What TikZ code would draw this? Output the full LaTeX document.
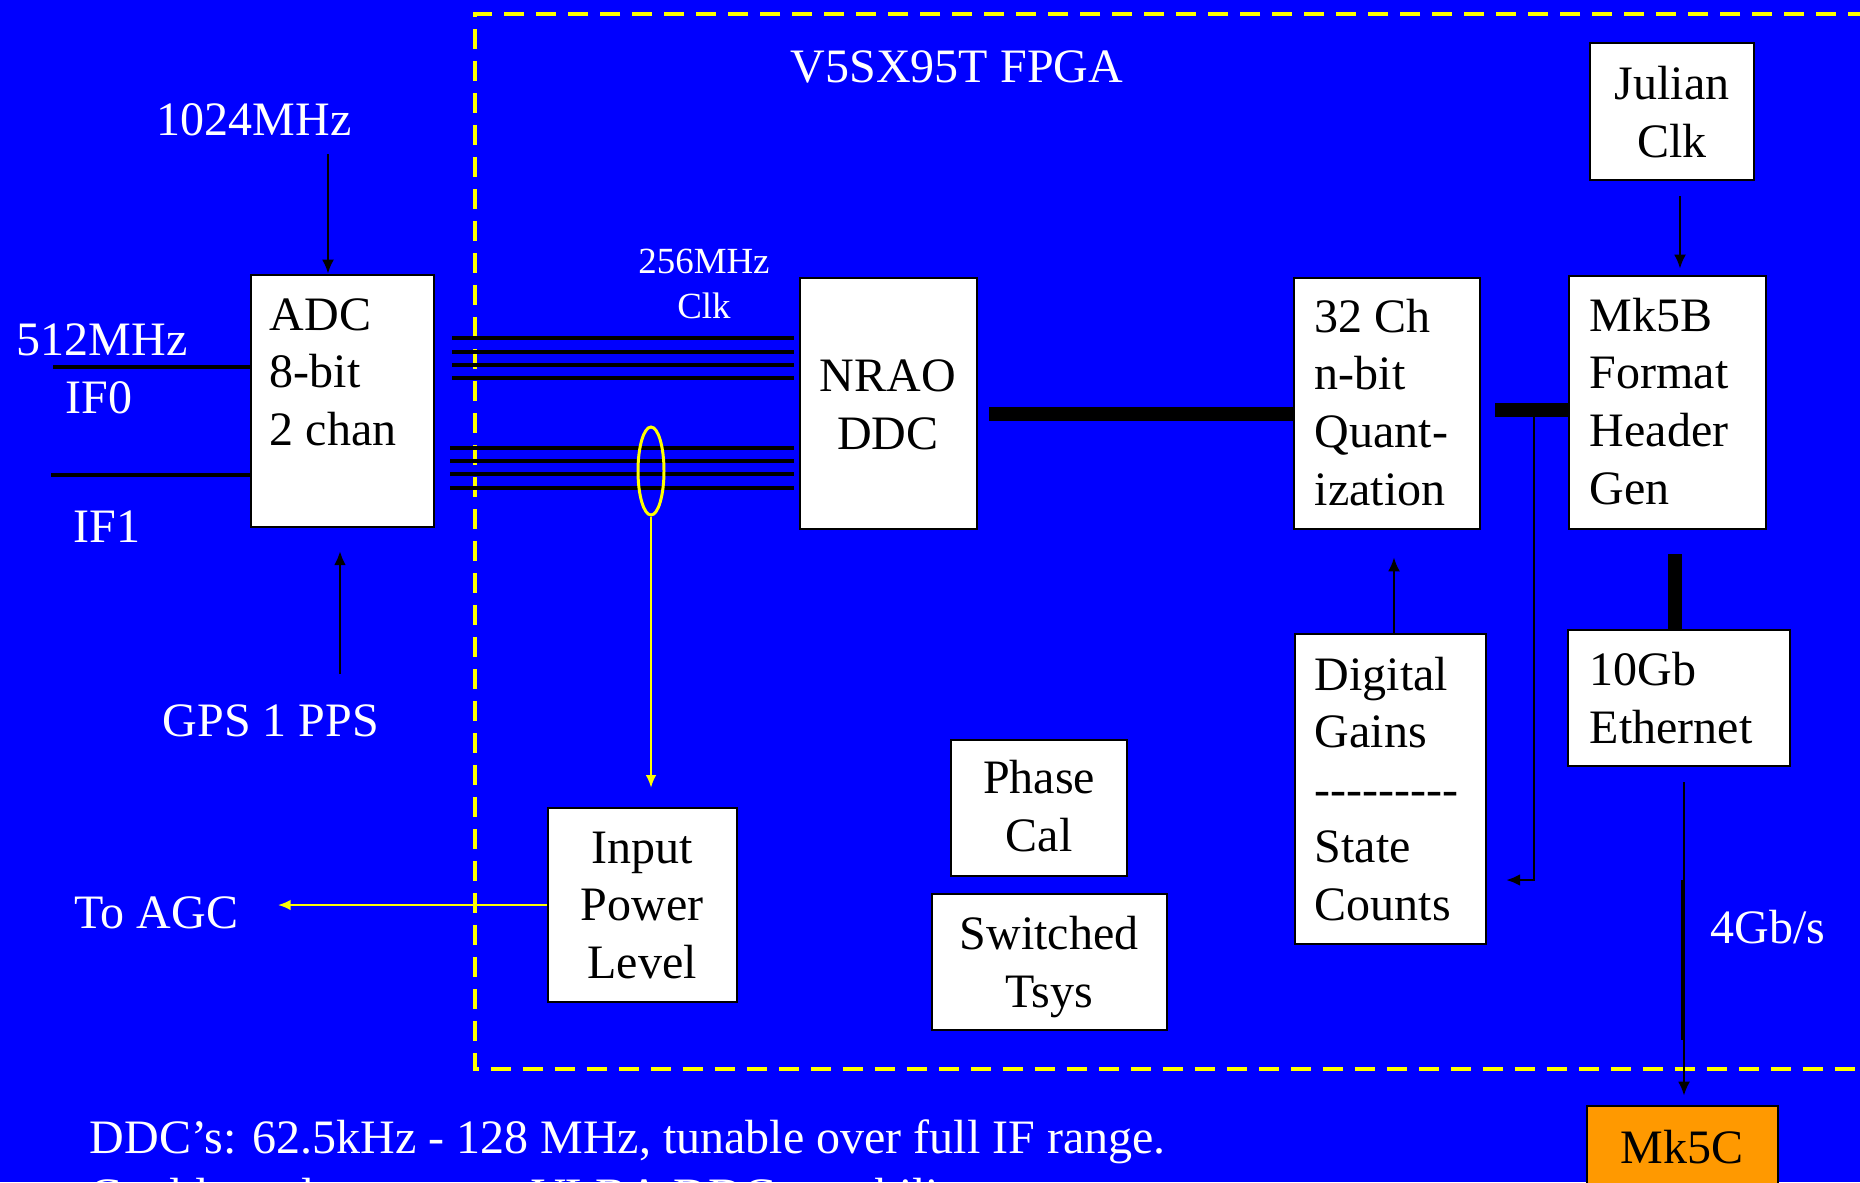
\documentclass[tikz,border=0pt]{standalone}
\usepackage{fontspec}
\setmainfont{Liberation Serif}
\usetikzlibrary{shapes.geometric,arrows.meta,calc}
\definecolor{bgblue}{HTML}{0000FF}
\definecolor{fpgayellow}{HTML}{FFFF00}
\definecolor{mkorange}{HTML}{FF9900}
\tikzset{
  bigfont/.style={font=\fontsize{13.66pt}{16.4pt}\selectfont},
  smallfont/.style={font=\fontsize{10.5pt}{12.8pt}\selectfont},
  box/.style={draw=black, line width=0.7pt, fill=white, inner sep=0pt},
  boxtext/.style={bigfont, text=black, inner sep=0pt},
  lbl/.style={bigfont, text=white, inner sep=0pt},
  thinarrow/.style={draw=black, line width=0.7pt, -{Latex[length=4pt,width=3.4pt]}},
  yellowarrow/.style={draw=fpgayellow, line width=0.55pt, -{Latex[length=3.6pt,width=3pt]}},
  busline/.style={draw=black, line width=1.15pt},
  thickbus/.style={draw=black, line width=4.2pt},
  fpgaborder/.style={draw=fpgayellow, line width=1.4pt, dash pattern=on 2mm off 1.2mm},
}
\begin{document}
\begin{tikzpicture}[x=0.1mm,y=-0.1mm]
\useasboundingbox (0,0) rectangle (1860,1182);
\fill[bgblue] (0,0) rectangle (1860,1182);
\clip (0,0) rectangle (1860,1182);

% FPGA boundary
\draw[fpgaborder] (1900,14) -- (475,14) -- (475,1069) -- (1900,1069);
\node[lbl, anchor=base] (fpga) at (957,82) {V5SX95T FPGA};

% boxes
\node[box, minimum width=18.3mm, minimum height=25.2mm] (adc) at (342.5,401) {};
\node[box, minimum width=17.7mm, minimum height=25.1mm] (ddc) at (888.5,403.5) {};
\node[box, minimum width=18.6mm, minimum height=25.1mm] (q32) at (1387,403.5) {};
\node[box, minimum width=19.7mm, minimum height=25.3mm] (mk5b) at (1667.5,402.5) {};
\node[box, minimum width=16.4mm, minimum height=13.7mm] (julian) at (1672,111.5) {};
\node[box, minimum width=22.2mm, minimum height=13.6mm] (eth) at (1679,698) {};
\node[box, minimum width=19.1mm, minimum height=31mm] (dg) at (1390.5,789) {};
\node[box, minimum width=17.6mm, minimum height=13.6mm] (pcal) at (1039,808) {};
\node[box, minimum width=23.5mm, minimum height=13.6mm] (tsys) at (1049.5,962) {};
\node[box, minimum width=18.9mm, minimum height=19.4mm] (inp) at (642.5,905) {};
\node[box, fill=mkorange, minimum width=19.1mm, minimum height=15.4mm] (mk5c) at (1682.5,1183) {};

% box texts (base anchor = baseline of the last line)
\node[boxtext, anchor=base west, align=left] (adcT) at (269,445.3) {ADC\\8-bit\\2 chan};
\node[boxtext, anchor=base, align=center] (ddcT) at (888,449.6) {NRAO\\DDC};
\node[boxtext, anchor=base west, align=left] (q32T) at (1314,505) {32 Ch\\n-bit\\Quant-\\ization};
\node[boxtext, anchor=base west, align=left] (mk5bT) at (1589,504) {Mk5B\\Format\\Header\\Gen};
\node[boxtext, anchor=base, align=center] (julianT) at (1672,157.6) {Julian\\Clk};
\node[boxtext, anchor=base west, align=left] (ethT) at (1589,743.6) {10Gb\\Ethernet};
\node[boxtext, anchor=base west, align=left] (dgT) at (1314,920.6) {Digital\\Gains\\-{}-{}-{}-{}-{}-{}-{}-{}-\\State\\Counts};
\node[boxtext, anchor=base, align=center] (pcalT) at (1039,851.6) {Phase\\Cal};
\node[boxtext, anchor=base, align=center] (tsysT) at (1049,1007.6) {Switched\\Tsys};
\node[boxtext, anchor=base, align=center] (inpT) at (642,978.3) {Input\\Power\\Level};
\node[boxtext, anchor=base] (mk5cT) at (1682,1163) {Mk5C};

% free labels
\node[lbl, anchor=base] (l1024) at (254,135) {1024MHz};
\node[lbl, anchor=base west] (l512) at (16,355) {512MHz};
\node[lbl, anchor=base west] (lif0) at (65,413) {IF0};
\node[lbl, anchor=base west] (lif1) at (73,542) {IF1};
\node[lbl, anchor=base west] (lgps) at (162,736) {GPS 1 PPS};
\node[smallfont, text=white, inner sep=0pt, anchor=base, align=center] (l256) at (704,318) {256MHz\\Clk};
\node[lbl, anchor=base west] (lagc) at (74,928) {To AGC};
\node[lbl, anchor=base west] (l4gb) at (1710,943) {4Gb/s};
\node[lbl, anchor=base west] (note1) at (89,1153) {DDC’s: 62.5kHz - 128 MHz, tunable over full IF range.};
\node[lbl, anchor=base west] (note2) at (89,1211) {Could emulate current VLBA DDC capability.};

% coordinates
\coordinate (fA) at (328,154);
\coordinate (gA) at (340,674);
\coordinate (gB) at (340,551);
\coordinate (if0) at (53,367);
\coordinate (if1) at (51,475);
\coordinate (b1) at (452,338);
\coordinate (b2) at (452,352);
\coordinate (b3) at (452,365);
\coordinate (b4) at (452,378);
\coordinate (b5) at (450,448);
\coordinate (b6) at (450,461);
\coordinate (b7) at (450,474);
\coordinate (b8) at (450,488);
\coordinate (ddcOut) at (989,414);
\coordinate (q32Out) at (1495,410);
\coordinate (tapA) at (1534,410);
\coordinate (tapB) at (1534,880);
\coordinate (tapC) at (1506,880);
\coordinate (jA) at (1680,196);
\coordinate (mA) at (1675,554);
\coordinate (eA) at (1684,782);
\coordinate (eB) at (1683,880);
\coordinate (eC) at (1683,1040);
\coordinate (dgA) at (1394,634);
\coordinate (agcTip) at (278,905);

% connectors
\draw[thinarrow] (fA) -- (fA |- adc.north);
\draw[thinarrow, line width=0.85pt] (gA) -- (gB);
\draw[busline] (if0) -- (if0 -| adc.west);
\draw[busline] (if1) -- (if1 -| adc.west);
\foreach \b in {b1,b2,b3,b4,b5,b6,b7,b8}{
  \draw[busline] (\b) -- ([xshift=-0.5mm]\b -| ddc.west);
}
\node[ellipse, draw=fpgayellow, line width=0.85pt, minimum width=2.6mm, minimum height=8.8mm, inner sep=0pt] (ell) at (651,471) {};
\draw[yellowarrow, shorten >=1.9mm] (ell.south) -- (ell.south |- inp.north);
\draw[yellowarrow] (inp.west) -- (agcTip);
\draw[thickbus] (ddcOut) -- (ddcOut -| q32.west);
\draw[thickbus] (q32Out) -- (q32Out -| mk5b.west);
\draw[thinarrow, line width=0.8pt] (tapA) -- (tapB) -- (tapC);
\draw[thinarrow, shorten >=0.6mm] (jA) -- (jA |- mk5b.north);
\draw[thickbus] (mA) -- (mA |- eth.north);
\draw[thinarrow, shorten >=0.9mm] (eA) -- (eA |- mk5c.north);
\draw[black, line width=1.1pt] (eB) -- (eC);
\draw[thinarrow, shorten >=2.7mm] (dgA) -- (dgA |- q32.south);
\end{tikzpicture}
\end{document}
